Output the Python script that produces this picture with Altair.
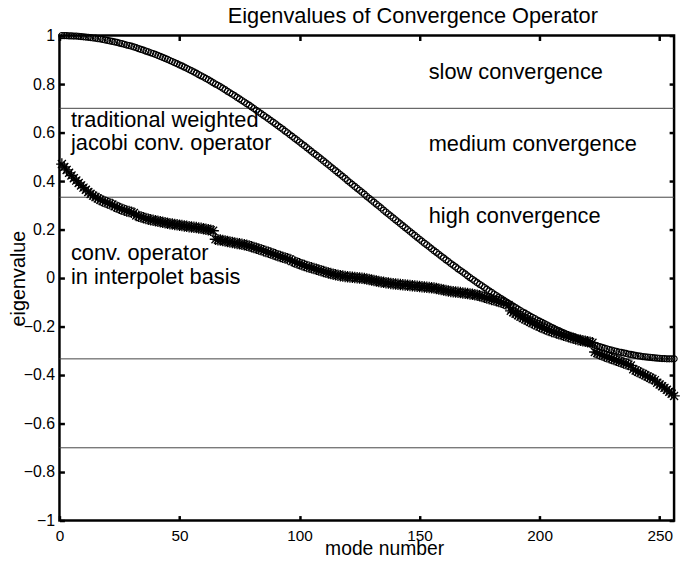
import altair as alt
import pandas as pd

# ---------------- data ----------------
modes = list(range(1, 257))

# traditional weighted jacobi convergence operator (circles)
jacobi = [
    1.000, 1.000, 1.000, 0.999, 0.999, 0.998, 0.998, 0.997, 0.996, 0.995,
    0.994, 0.993, 0.992, 0.990, 0.989, 0.987, 0.986, 0.984, 0.982, 0.980,
    0.978, 0.976, 0.974, 0.972, 0.969, 0.967, 0.964, 0.961, 0.959, 0.956,
    0.953, 0.950, 0.946, 0.943, 0.940, 0.936, 0.933, 0.929, 0.926, 0.922,
    0.918, 0.914, 0.910, 0.906, 0.902, 0.897, 0.893, 0.888, 0.884, 0.879,
    0.875, 0.870, 0.865, 0.860, 0.855, 0.850, 0.845, 0.839, 0.834, 0.829,
    0.823, 0.818, 0.812, 0.806, 0.800, 0.795, 0.789, 0.783, 0.777, 0.770,
    0.764, 0.758, 0.752, 0.745, 0.739, 0.732, 0.726, 0.719, 0.713, 0.706,
    0.699, 0.692, 0.685, 0.678, 0.671, 0.664, 0.657, 0.650, 0.643, 0.636,
    0.628, 0.621, 0.614, 0.606, 0.599, 0.591, 0.584, 0.576, 0.569, 0.561,
    0.553, 0.546, 0.538, 0.530, 0.522, 0.514, 0.507, 0.499, 0.491, 0.483,
    0.475, 0.467, 0.459, 0.451, 0.443, 0.435, 0.427, 0.419, 0.411, 0.402,
    0.394, 0.386, 0.378, 0.370, 0.362, 0.354, 0.346, 0.337,
    0.329, 0.321, 0.313, 0.305, 0.297, 0.289, 0.280, 0.272, 0.264, 0.256, 0.248, 0.240,
    0.232, 0.224, 0.216, 0.208, 0.200, 0.192, 0.184, 0.176, 0.168, 0.160,
    0.152, 0.144, 0.137, 0.129, 0.121, 0.113, 0.106, 0.098, 0.090, 0.083,
    0.075, 0.068, 0.060, 0.053, 0.046, 0.038, 0.031, 0.024, 0.017, 0.009,
    0.002, -0.005, -0.012, -0.019, -0.026, -0.032, -0.039, -0.046, -0.053, -0.059,
    -0.066, -0.072, -0.079, -0.085, -0.091, -0.098, -0.104, -0.110, -0.116, -0.122,
    -0.128, -0.134, -0.140, -0.145, -0.151, -0.157, -0.162, -0.167, -0.173, -0.178,
    -0.183, -0.188, -0.193, -0.198, -0.203, -0.208, -0.213, -0.217, -0.222, -0.226,
    -0.231, -0.235, -0.239, -0.243, -0.247, -0.251, -0.255, -0.259, -0.263, -0.266,
    -0.270, -0.273, -0.277, -0.280, -0.283, -0.286, -0.289, -0.292, -0.295, -0.297,
    -0.300, -0.302, -0.305, -0.307, -0.309, -0.311, -0.314, -0.315, -0.317, -0.319,
    -0.321, -0.322, -0.324, -0.325, -0.326, -0.327, -0.328, -0.329, -0.330, -0.331,
    -0.332, -0.332, -0.333, -0.333, -0.333, -0.333,
]

# convergence operator in interpolet basis (stars)
interpolet = [
    0.470, 0.458, 0.446, 0.434, 0.423, 0.412, 0.402, 0.392, 0.382, 0.373,
    0.364, 0.355, 0.347, 0.340, 0.334, 0.328, 0.323, 0.318, 0.314, 0.310,
    0.306, 0.303, 0.296, 0.292, 0.288, 0.284, 0.280, 0.277, 0.274, 0.271,
    0.268, 0.258, 0.255, 0.252, 0.249, 0.246, 0.243, 0.240, 0.238, 0.236,
    0.234, 0.232, 0.230, 0.228, 0.226, 0.224, 0.223, 0.221, 0.220, 0.218,
    0.217, 0.215, 0.214, 0.212, 0.211, 0.209, 0.208, 0.206, 0.205, 0.203,
    0.201, 0.199, 0.197, 0.195, 0.160, 0.158, 0.157, 0.155, 0.153, 0.151,
    0.149, 0.147, 0.145, 0.143, 0.141, 0.139, 0.137, 0.135, 0.132, 0.129,
    0.126, 0.123, 0.120, 0.117, 0.113, 0.110, 0.106, 0.103, 0.099, 0.096,
    0.092, 0.089, 0.086, 0.083, 0.080, 0.077, 0.070, 0.066, 0.062, 0.059,
    0.055, 0.052, 0.048, 0.045, 0.042, 0.039, 0.036, 0.033, 0.030, 0.027,
    0.024, 0.021, 0.019, 0.016, 0.014, 0.012, 0.010, 0.008, 0.006, 0.005,
    0.004, 0.003, 0.002, 0.001, 0.000, -0.001, -0.002, -0.004, -0.006, -0.008,
    -0.010, -0.012, -0.014, -0.016, -0.017, -0.019, -0.020, -0.022, -0.023, -0.025,
    -0.026, -0.027, -0.028, -0.029, -0.030, -0.031, -0.032, -0.033, -0.034, -0.035,
    -0.036, -0.037, -0.038, -0.039, -0.040, -0.041, -0.043, -0.045, -0.047, -0.049,
    -0.051, -0.053, -0.055, -0.056, -0.058, -0.059, -0.060, -0.062, -0.063, -0.064,
    -0.066, -0.067, -0.069, -0.071, -0.073, -0.076, -0.079, -0.082, -0.085, -0.088,
    -0.091, -0.094, -0.097, -0.100, -0.103, -0.107, -0.111, -0.135, -0.141, -0.147,
    -0.153, -0.159, -0.165, -0.170, -0.175, -0.180, -0.185, -0.190, -0.195, -0.200,
    -0.204, -0.208, -0.212, -0.216, -0.220, -0.223, -0.227, -0.230, -0.233, -0.236,
    -0.239, -0.242, -0.245, -0.248, -0.251, -0.254, -0.256, -0.259, -0.261, -0.263,
    -0.265, -0.267, -0.305, -0.309, -0.313, -0.317, -0.321, -0.325, -0.329, -0.332,
    -0.336, -0.339, -0.343, -0.346, -0.350, -0.353, -0.357, -0.361, -0.376, -0.381,
    -0.386, -0.391, -0.396, -0.401, -0.406, -0.411, -0.416, -0.421, -0.432, -0.439,
    -0.446, -0.453, -0.461, -0.469, -0.477, -0.486,
]

thresholds = [0.7, 0.3333, -0.3333, -0.7]

ann_labels = [
    "slow convergence",
    "medium convergence",
    "high convergence",
    "traditional weighted\njacobi conv. operator",
    "conv. operator\nin interpolet basis",
]
ann_x = [153.8, 153.8, 153.8, 4.8, 4.8]
ann_y = [0.819, 0.522, 0.226, 0.625, 0.073]

title_text = ["Eigenvalues of Convergence Operator"]
title_x = [147.2]
title_y = [1.053]

x_title = "mode number"
y_title = "eigenvalue"

x_ticks = [0, 50, 100, 150, 200, 250]
y_ticks = [-1, -0.8, -0.6, -0.4, -0.2, 0, 0.2, 0.4, 0.6, 0.8, 1]

# ---------------- styling ----------------
FONT = "Liberation Sans"
W, H = 621, 490
TS = 5  # inward tick length

STAR = "M-1,0L1,0M0,-1L0,1M-0.7,-0.7L0.7,0.7M-0.7,0.7L0.7,-0.7"

xs = alt.Scale(domain=[0, 256], nice=False, zero=False)
ys = alt.Scale(domain=[-1, 1], nice=False, zero=False)

common = dict(
    domain=False, grid=False, tickColor="black", tickWidth=2.5, tickSize=TS,
    offset=-TS, labelFont=FONT, labelColor="black",
    titleFont=FONT, titleFontWeight="normal", titleColor="black",
)

x_bottom = alt.Axis(orient="bottom", values=x_ticks, format="d", labelPadding=8,
                    labelFontSize=15.5, labelFlush=False, title=x_title,
                    titleFontSize=19.5, titleBaseline="alphabetic",
                    titleX=328, titleY=39.5, **common)
y_left = alt.Axis(orient="left", values=y_ticks, format="~g", labelPadding=5,
                  labelFontSize=16, title=y_title, titleFontSize=20,
                  titleBaseline="alphabetic", titleAngle=270,
                  titleX=-40, titleY=H / 2, **common)
x_top = alt.Axis(orient="top", values=x_ticks, labels=False, title=None, **common)
y_right = alt.Axis(orient="right", values=y_ticks, labels=False, title=None, **common)

df = pd.DataFrame({"mode": modes, "jacobi": jacobi, "interpolet": interpolet})
ann_df = pd.DataFrame({"label": ann_labels, "x": ann_x, "y": ann_y})
title_df = pd.DataFrame({"label": title_text, "x": title_x, "y": title_y})

rules = alt.Chart(pd.DataFrame({"t": thresholds})).mark_rule(
    color="#444444", strokeWidth=1
).encode(y=alt.Y("t:Q", scale=ys, axis=None))

stars = alt.Chart(df).mark_point(
    shape=STAR, size=135, filled=False, color="black", strokeWidth=1.3, opacity=1
).encode(
    x=alt.X("mode:Q", scale=xs, axis=x_top),
    y=alt.Y("interpolet:Q", scale=ys, axis=y_right),
)

circles = alt.Chart(df).mark_point(
    shape="circle", size=38, filled=False, color="black", strokeWidth=1.15, opacity=1
).encode(
    x=alt.X("mode:Q", scale=xs, axis=x_bottom),
    y=alt.Y("jacobi:Q", scale=ys, axis=y_left),
)

texts = alt.Chart(ann_df).mark_text(
    align="left", baseline="alphabetic", font=FONT, fontSize=22,
    lineBreak="\n", lineHeight=23.5, color="black"
).encode(
    x=alt.X("x:Q", scale=xs, axis=None),
    y=alt.Y("y:Q", scale=ys, axis=None),
    text="label:N",
)

title = alt.Chart(title_df).mark_text(
    align="center", baseline="alphabetic", font=FONT, fontSize=22, color="black"
).encode(
    x=alt.X("x:Q", scale=xs, axis=None),
    y=alt.Y("y:Q", scale=ys, axis=None),
    text="label:N",
)

chart = alt.layer(rules, stars, circles, texts, title).resolve_axis(
    x="independent", y="independent"
).properties(
    width=W, height=H,
    padding={"left": 52, "top": 25, "right": 7, "bottom": 35},
    autosize=alt.AutoSizeParams(type="none"),
).configure_view(stroke="black", strokeWidth=2.5)

chart.save("out.html", embed_options={"renderer": "svg", "actions": False})
